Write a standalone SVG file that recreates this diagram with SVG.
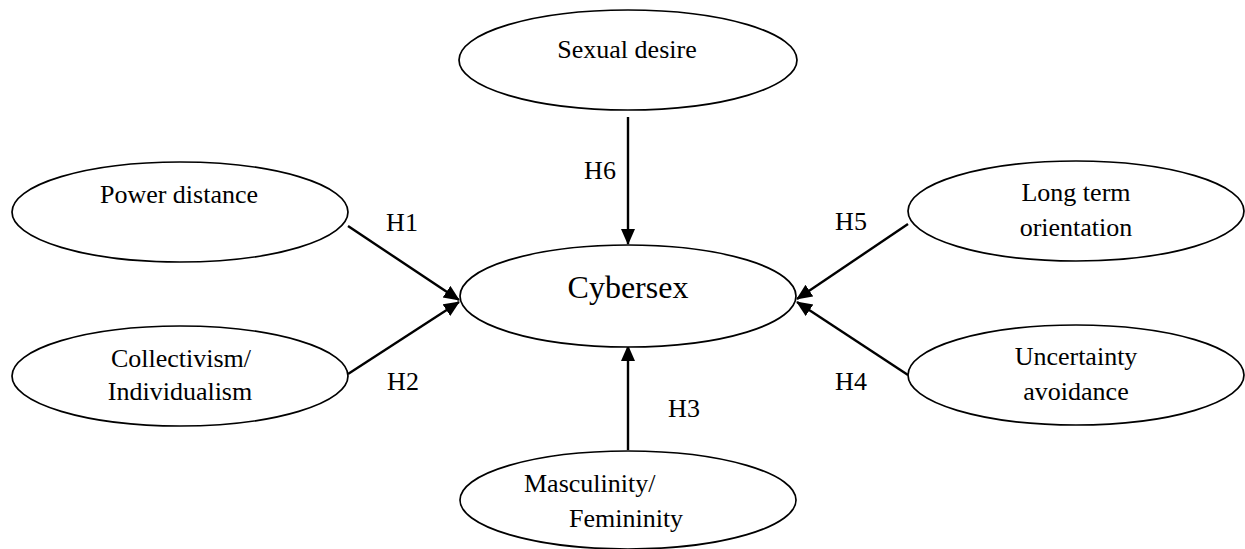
<svg xmlns="http://www.w3.org/2000/svg" width="1245" height="549" viewBox="0 0 1245 549">
  <style>
    .node { fill: #ffffff; stroke: #000000; stroke-width: 1.7; }
    .lbl { font-family: "Liberation Serif", "Times New Roman", serif; font-size: 26px; fill: #000000; text-anchor: middle; }
    .big { font-size: 32px; }
    .start { text-anchor: start; }
    .edge { stroke: #000000; stroke-width: 2.4; fill: none; marker-end: url(#arrow); }
  </style>
  <defs>
    <marker id="arrow" markerUnits="userSpaceOnUse" markerWidth="17" markerHeight="15" refX="15" refY="7" orient="auto">
      <path d="M0,0 L16,7 L0,14 Z" fill="#000000"/>
    </marker>
  </defs>
  <rect width="1245" height="549" fill="#ffffff"/>

  <g id="connectors">
    <line class="edge" x1="348" y1="226" x2="459" y2="300"/>
    <line class="edge" x1="348" y1="374" x2="459" y2="302"/>
    <line class="edge" x1="908" y1="224" x2="797" y2="299"/>
    <line class="edge" x1="908" y1="375" x2="797" y2="302"/>
    <line class="edge" x1="628" y1="117" x2="628" y2="244"/>
    <line class="edge" x1="628" y1="450" x2="628" y2="346"/>
    <text class="lbl" x="402" y="231">H1</text>
    <text class="lbl" x="403" y="390">H2</text>
    <text class="lbl" x="684" y="417">H3</text>
    <text class="lbl" x="851" y="390">H4</text>
    <text class="lbl" x="851" y="230">H5</text>
    <text class="lbl" x="600" y="179">H6</text>
  </g>

  <g id="sexual-desire">
    <ellipse class="node" cx="628" cy="60" rx="169" ry="50"/>
    <text class="lbl" x="627" y="58">Sexual desire</text>
  </g>
  <g id="power-distance">
    <ellipse class="node" cx="180" cy="212" rx="168" ry="50"/>
    <text class="lbl" x="179" y="203">Power distance</text>
  </g>
  <g id="collectivism">
    <ellipse class="node" cx="180" cy="376" rx="168" ry="50"/>
    <text class="lbl" x="181" y="367">Collectivism/</text>
    <text class="lbl" x="180" y="400">Individualism</text>
  </g>
  <g id="cybersex">
    <ellipse class="node" cx="628" cy="296" rx="168" ry="51"/>
    <text class="lbl big" x="628" y="298">Cybersex</text>
  </g>
  <g id="long-term-orientation">
    <ellipse class="node" cx="1076" cy="211" rx="168" ry="50"/>
    <text class="lbl" x="1076" y="201">Long term</text>
    <text class="lbl" x="1076" y="236">orientation</text>
  </g>
  <g id="uncertainty-avoidance">
    <ellipse class="node" cx="1076" cy="375" rx="168" ry="50"/>
    <text class="lbl" x="1076" y="365">Uncertainty</text>
    <text class="lbl" x="1076" y="400">avoidance</text>
  </g>
  <g id="masculinity-femininity">
    <ellipse class="node" cx="628" cy="500" rx="168" ry="49"/>
    <text class="lbl start" x="524" y="492">Masculinity/</text>
    <text class="lbl start" x="569" y="527">Femininity</text>
  </g>
</svg>
